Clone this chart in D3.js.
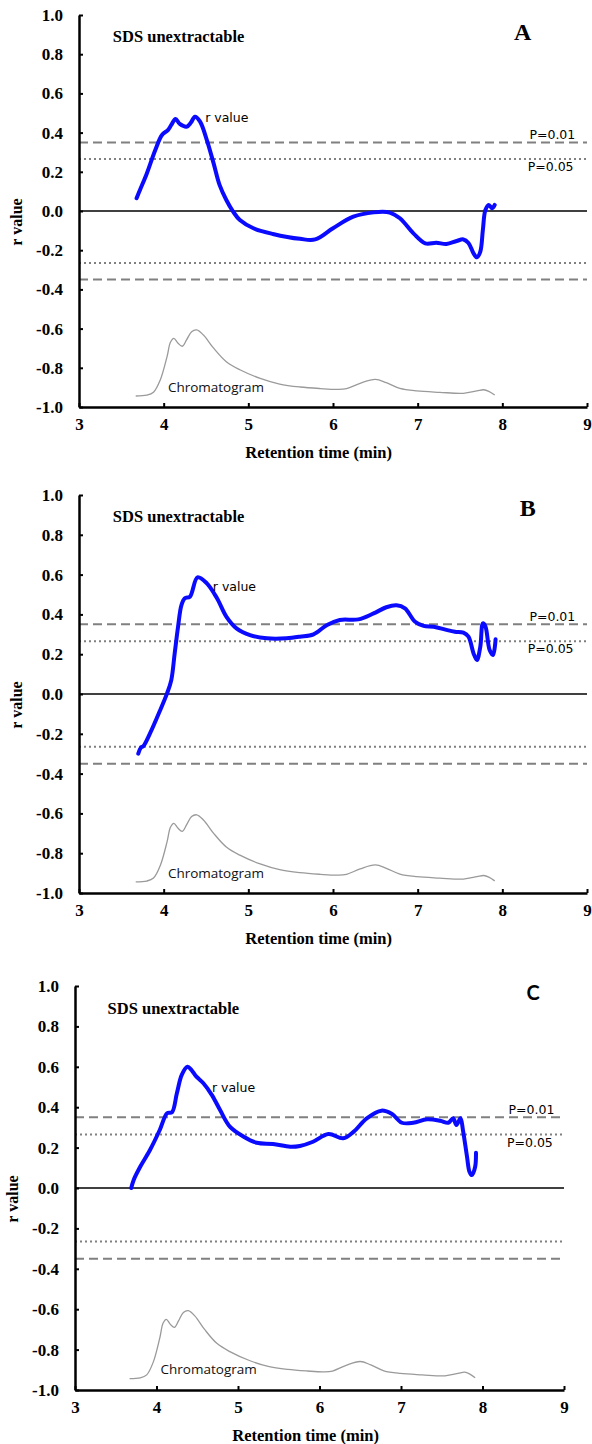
<!DOCTYPE html>
<html>
<head>
<meta charset="utf-8">
<script src="https://cdn.jsdelivr.net/npm/d3@7"></script>
<style>
  html, body { margin: 0; padding: 0; background: #fff; }
  svg { display: block; }
</style>
</head>
<body>
<svg id="chart" width="592" height="1444"></svg>
<script>
// -------- Data --------
const timeTicks = [3, 4, 5, 6, 7, 8, 9];
const rTicks = [-1.0, -0.8, -0.6, -0.4, -0.2, 0.0, 0.2, 0.4, 0.6, 0.8, 1.0];
const thresholdDashed = 0.35;   // P=0.01
const thresholdDotted = 0.265;  // P=0.05

// chromatogram trace (same sample in every panel), [time, plotted value]
const chromatogram = [
  [3.67, -0.944], [3.80, -0.94], [3.88, -0.925], [3.96, -0.862], [4.04, -0.743],
  [4.08, -0.67], [4.12, -0.65], [4.17, -0.675], [4.22, -0.69], [4.27, -0.658],
  [4.33, -0.616], [4.39, -0.607], [4.47, -0.633], [4.59, -0.70], [4.74, -0.769],
  [4.90, -0.81], [5.14, -0.854], [5.37, -0.883], [5.61, -0.898], [5.85, -0.906],
  [6.05, -0.91], [6.16, -0.906], [6.32, -0.879], [6.50, -0.859], [6.63, -0.876],
  [6.79, -0.905], [6.99, -0.918], [7.26, -0.925], [7.54, -0.93], [7.70, -0.918],
  [7.78, -0.912], [7.84, -0.92], [7.91, -0.939]
];

// r value, panel A
const rValueA = [
  [3.68, 0.065], [3.72, 0.107], [3.80, 0.19], [3.90, 0.31], [3.98, 0.388],
  [4.05, 0.413], [4.09, 0.439], [4.14, 0.469], [4.19, 0.444], [4.27, 0.43],
  [4.32, 0.45], [4.37, 0.481], [4.43, 0.456], [4.51, 0.362], [4.59, 0.243],
  [4.66, 0.133], [4.74, 0.056], [4.82, -0.003], [4.90, -0.046], [5.06, -0.088],
  [5.29, -0.117], [5.61, -0.142], [5.79, -0.145], [6.00, -0.088], [6.24, -0.029],
  [6.48, -0.007], [6.67, -0.008], [6.79, -0.037], [6.95, -0.114], [7.09, -0.165],
  [7.22, -0.162], [7.34, -0.168], [7.46, -0.153], [7.54, -0.145], [7.60, -0.163],
  [7.66, -0.216], [7.70, -0.236], [7.74, -0.207], [7.77, -0.097], [7.80, 0.005],
  [7.84, 0.031], [7.88, 0.014], [7.91, 0.031]
];

// r value, panel B
const rValueB = [
  [3.70, -0.30], [3.73, -0.27], [3.76, -0.262], [3.84, -0.197], [3.96, -0.08],
  [4.04, 0.003], [4.09, 0.07], [4.13, 0.204], [4.17, 0.338], [4.21, 0.447],
  [4.25, 0.481], [4.31, 0.489], [4.40, 0.586], [4.51, 0.556], [4.63, 0.481],
  [4.74, 0.389], [4.86, 0.33], [5.02, 0.296], [5.22, 0.28], [5.45, 0.28],
  [5.61, 0.288], [5.77, 0.30], [5.93, 0.347], [6.08, 0.372], [6.30, 0.375],
  [6.48, 0.405], [6.63, 0.436], [6.75, 0.446], [6.85, 0.43], [6.97, 0.363],
  [7.07, 0.342], [7.19, 0.338], [7.34, 0.322], [7.44, 0.313], [7.54, 0.308],
  [7.60, 0.288], [7.66, 0.204], [7.70, 0.171], [7.74, 0.238], [7.77, 0.355],
  [7.80, 0.34], [7.85, 0.221], [7.89, 0.196], [7.92, 0.275]
];

// r value, panel C
const rValueC = [
  [3.69, 0.0], [3.72, 0.04], [3.80, 0.105], [3.92, 0.188], [4.04, 0.287],
  [4.13, 0.37], [4.19, 0.375], [4.25, 0.469], [4.31, 0.56], [4.38, 0.60],
  [4.43, 0.584], [4.49, 0.551], [4.57, 0.521], [4.68, 0.46], [4.78, 0.386],
  [4.90, 0.304], [5.07, 0.254], [5.23, 0.224], [5.43, 0.218], [5.64, 0.204],
  [5.76, 0.208], [5.92, 0.229], [6.11, 0.267], [6.29, 0.246], [6.42, 0.279],
  [6.58, 0.345], [6.76, 0.383], [6.89, 0.366], [7.01, 0.323], [7.15, 0.323],
  [7.32, 0.34], [7.48, 0.333], [7.58, 0.323], [7.64, 0.345], [7.68, 0.312],
  [7.73, 0.345], [7.76, 0.287], [7.81, 0.155], [7.84, 0.081], [7.87, 0.064],
  [7.91, 0.105], [7.92, 0.175]
];

// -------- Panel layout --------
const SERIF = "'Liberation Serif', 'Times New Roman', serif";
const SANS = "'DejaVu Sans', Verdana, sans-serif";

const panels = [
  { letter: "A", letterFont: SERIF, letterSize: 24, letterPos: [8.24, 0.872],
    series: rValueA, rLabel: [4.49, 0.455],
    left: 79, right: 587, top: 15, bottom: 407 },
  { letter: "B", letterFont: SERIF, letterSize: 24, letterPos: [8.30, 0.894],
    series: rValueB, rLabel: [4.58, 0.52],
    left: 79, right: 587, top: 495, bottom: 893 },
  { letter: "C", letterFont: "Lato, 'Open Sans', sans-serif", letterSize: 20, letterPos: [8.62, 0.93],
    series: rValueC, rLabel: [4.68, 0.475],
    left: 75, right: 564, top: 986, bottom: 1390 }
];

const svg = d3.select("#chart");

panels.forEach(drawPanel);

function drawPanel(p) {
  const x = d3.scaleLinear().domain([3, 9]).range([p.left, p.right]);
  const y = d3.scaleLinear().domain([-1, 1]).range([p.bottom, p.top]);
  const g = svg.append("g");

  // threshold lines
  const hline = (v, dash) => g.append("line")
    .attr("x1", x(3)).attr("x2", x(9))
    .attr("y1", y(v)).attr("y2", y(v))
    .attr("stroke", "#808080")
    .attr("stroke-width", 2)
    .attr("stroke-dasharray", dash);
  hline(thresholdDashed, "9,5");
  hline(-thresholdDashed, "9,5");
  hline(thresholdDotted, "2,3");
  hline(-thresholdDotted, "2,3");

  // zero line
  g.append("line")
    .attr("x1", x(3)).attr("x2", x(9))
    .attr("y1", y(0)).attr("y2", y(0))
    .attr("stroke", "#000").attr("stroke-width", 1.5);

  const line = d3.line()
    .x(d => x(d[0]))
    .y(d => y(d[1]))
    .curve(d3.curveCatmullRom.alpha(0.5));

  // chromatogram
  g.append("path")
    .datum(chromatogram)
    .attr("d", line)
    .attr("fill", "none")
    .attr("stroke", "#9a9a9a")
    .attr("stroke-width", 1.3);

  // r value
  g.append("path")
    .datum(p.series)
    .attr("d", line)
    .attr("fill", "none")
    .attr("stroke", "#0a0aff")
    .attr("stroke-width", 4)
    .attr("stroke-linejoin", "round")
    .attr("stroke-linecap", "round");

  // axes
  const xAxis = g.append("g")
    .attr("transform", `translate(0,${p.bottom})`)
    .call(d3.axisBottom(x).tickValues(timeTicks).tickSize(-4).tickSizeOuter(0).tickFormat(d3.format("d")));
  const yAxis = g.append("g")
    .attr("transform", `translate(${p.left},0)`)
    .call(d3.axisLeft(y).tickValues(rTicks).tickSize(-4).tickSizeOuter(0).tickPadding(16).tickFormat(d3.format(".1f")));

  [xAxis, yAxis].forEach(ax => {
    ax.attr("font-family", null).attr("font-size", null);
    ax.select(".domain").attr("stroke", "#000").attr("stroke-width", 2.5);
    ax.selectAll(".tick line").attr("stroke", "#000").attr("stroke-width", 2);
    ax.selectAll(".tick text")
      .attr("fill", "#000")
      .style("font-family", SERIF)
      .style("font-weight", "bold")
      .style("font-size", "17px");
  });
  xAxis.selectAll(".tick text").attr("y", 11).attr("dy", "0.71em");
  yAxis.selectAll(".tick text").text(d => d3.format(".1f")(d).replace("−", "-"));

  // axis titles
  g.append("text")
    .attr("x", x(5.83))
    .attr("y", p.bottom + 51)
    .attr("text-anchor", "middle")
    .style("font-family", SERIF).style("font-weight", "bold").style("font-size", "16.5px")
    .text("Retention time (min)");

  g.append("text")
    .attr("transform", `translate(${p.left - 57},${(p.top + p.bottom) / 2 + 11}) rotate(-90)`)
    .attr("text-anchor", "middle")
    .style("font-family", SERIF).style("font-weight", "bold").style("font-size", "16px")
    .text("r value");

  // in-plot labels
  g.append("text")
    .attr("x", x(3.40)).attr("y", y(0.862))
    .style("font-family", SERIF).style("font-weight", "bold").style("font-size", "16.5px")
    .text("SDS unextractable");

  g.append("text")
    .attr("x", x(p.letterPos[0])).attr("y", y(p.letterPos[1]))
    .attr("text-anchor", "middle")
    .style("font-family", p.letterFont).style("font-weight", "bold")
    .style("font-size", p.letterSize + "px")
    .text(p.letter);

  g.append("text")
    .attr("x", x(p.rLabel[0])).attr("y", y(p.rLabel[1]))
    .style("font-family", SANS).style("font-size", "12.5px")
    .text("r value");

  g.append("text")
    .attr("x", x(8.32)).attr("y", y(0.367))
    .style("font-family", SANS).style("font-size", "12.5px")
    .text("P=0.01");
  g.append("text")
    .attr("x", x(8.30)).attr("y", y(0.205))
    .style("font-family", SANS).style("font-size", "12.5px")
    .text("P=0.05");

  g.append("text")
    .attr("x", x(4.05)).attr("y", y(-0.923))
    .style("font-family", "'Open Sans', 'Noto Sans', sans-serif").style("font-size", "13.5px")
    .attr("fill", "#111")
    .text("Chromatogram");
}
</script>
</body>
</html>
